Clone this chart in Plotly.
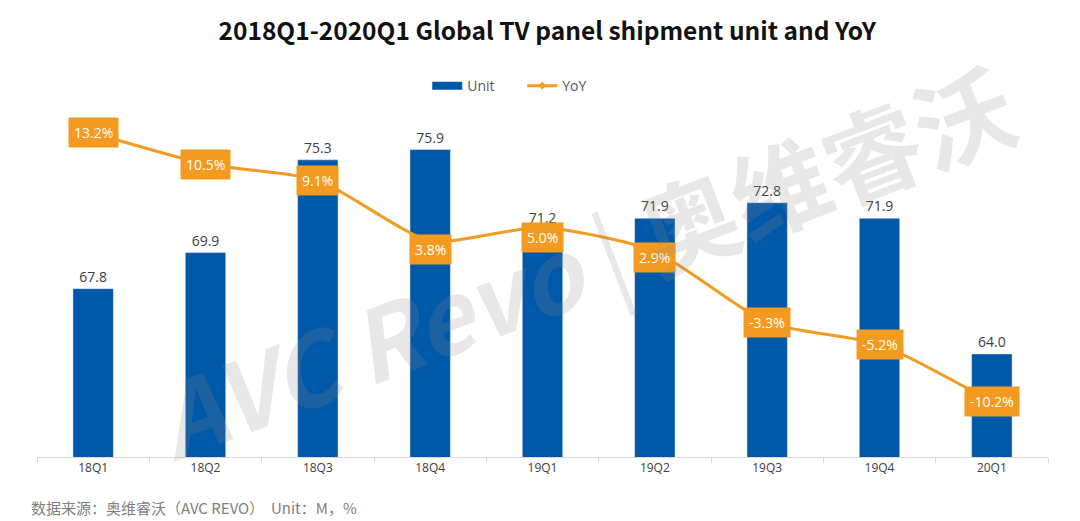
import plotly.graph_objects as go

quarters = ["18Q1", "18Q2", "18Q3", "18Q4", "19Q1", "19Q2", "19Q3", "19Q4", "20Q1"]
units = [67.8, 69.9, 75.3, 75.9, 71.2, 71.9, 72.8, 71.9, 64.0]
yoy = [13.2, 10.5, 9.1, 3.8, 5.0, 2.9, -3.3, -5.2, -10.2]

BLUE = "#0058A9"
ORANGE = "#F39A21"

# label nudges (styling): a few YoY boxes sit slightly below their points
label_yshift = [0, 0, 0, -9, -10, -6, 0, 0, 0]

# page body has an 8px margin; figure is sized/offset to compensate
W, H = 1072, 513

fig = go.Figure()
fig.add_trace(go.Bar(
    x=quarters, y=units, name="Unit", marker_color=BLUE, width=0.36,
    text=[f"{v:.1f}" for v in units], textposition="outside",
    textfont=dict(size=14, color="#404040", family="Open Sans"),
    cliponaxis=False, showlegend=False,
))
# legend entry for bars drawn as a wide rectangle swatch
fig.add_trace(go.Scatter(
    x=[None], y=[None], name="Unit", mode="lines",
    line=dict(color=BLUE, width=8),
))
fig.add_trace(go.Scatter(
    x=quarters, y=yoy, name="YoY", yaxis="y2", mode="lines+markers",
    line=dict(color=ORANGE, width=3, shape="spline", smoothing=0.6),
    marker=dict(symbol="diamond", size=6, color=ORANGE),
))

annotations = []
for q, v, dy in zip(quarters, yoy, label_yshift):
    annotations.append(dict(
        x=q, y=v, xref="x", yref="y2", text=f"{v:.1f}%", showarrow=False,
        font=dict(size=14, color="white", family="Open Sans"),
        bgcolor=ORANGE, borderpad=5, yshift=dy,
    ))

# watermark
annotations.append(dict(
    x=0.54, y=0.57, xref="paper", yref="paper", text="<b><i>AVC Revo</i></b> | <b>奥维睿沃</b>",
    showarrow=False, textangle=-21,
    font=dict(size=98, color="rgba(140,140,140,0.2)", family="Noto Sans CJK SC"),
))

annotations.append(dict(
    x=-0.008, y=-0.145, xref="paper", yref="paper", xanchor="left", yanchor="middle",
    text="数据来源：奥维睿沃（AVC REVO）  Unit：M，%", showarrow=False,
    font=dict(size=15, color="#7F7F7F", family="Noto Sans CJK SC"),
))

fig.update_layout(
    width=W, height=H,
    paper_bgcolor="white", plot_bgcolor="white",
    margin=dict(l=29, r=32, t=102, b=64),
    title=dict(
        text="<b>2018Q1-2020Q1 Global TV panel shipment unit and YoY</b>",
        x=0.503, xanchor="center", y=1 - 23 / H, yanchor="middle",
        font=dict(size=24.5, color="#111111", family="Noto Sans CJK SC"),
    ),
    legend=dict(
        orientation="h", x=0.386, xanchor="left", y=1.069, yanchor="middle",
        font=dict(size=14, color="#595959", family="Open Sans"),
        bgcolor="rgba(0,0,0,0)", entrywidth=50, entrywidthmode="pixels",
    ),
    xaxis=dict(
        type="category", showgrid=False, showline=True, linecolor="#D9D9D9", linewidth=1,
        ticks="outside", tickson="boundaries", ticklen=5, tickcolor="#D9D9D9",
        tickfont=dict(size=12, color="#404040", family="Open Sans"),
    ),
    yaxis=dict(range=[58, 78.2], visible=False, showgrid=False),
    yaxis2=dict(range=[-15, 15.2], overlaying="y", visible=False, showgrid=False),
    annotations=annotations,
    bargap=0.64,
)

fig.write_html("out.html")
